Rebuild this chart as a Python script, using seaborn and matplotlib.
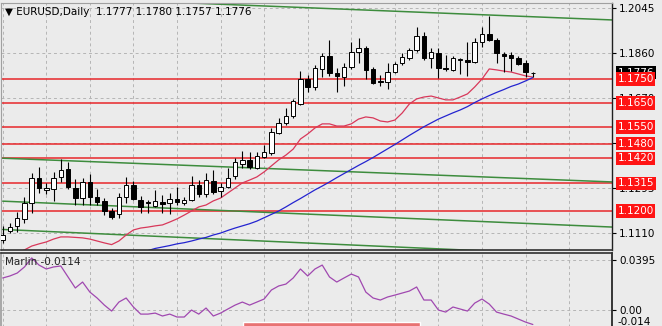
import numpy as np
import pandas as pd
import matplotlib
matplotlib.use("Agg")
import matplotlib.pyplot as plt
import seaborn as sns
from matplotlib.patches import Rectangle

sns.set_theme(style="white")
plt.rcParams['font.family'] = ['DejaVu Sans']

# ---------------- data ----------------
opens = [1.1079, 1.1117, 1.1138, 1.1167, 1.1233, 1.1338, 1.1288, 1.1292, 1.1342, 1.1375,
         1.1296, 1.1254, 1.1321, 1.1258, 1.1242, 1.1200, 1.1188, 1.1258, 1.1308, 1.1246,
         1.1238, 1.1221, 1.1238, 1.1233, 1.1250, 1.1233, 1.1246, 1.1308, 1.1271, 1.1325,
         1.1283, 1.1300, 1.1346, 1.1396, 1.1413, 1.1379, 1.1425, 1.1442, 1.1525, 1.1567,
         1.1596, 1.1646, 1.1750, 1.1717, 1.1792, 1.1846, 1.1775, 1.1758, 1.1800, 1.1863,
         1.1879, 1.1792, 1.1742, 1.1738, 1.1779, 1.1817, 1.1838, 1.1871, 1.1929, 1.1838,
         1.1858, 1.1796, 1.1788, 1.1831, 1.1829, 1.1821, 1.1904, 1.1938, 1.1913, 1.1854,
         1.1850, 1.1838, 1.1817, 1.1777]
highs = [1.1138, 1.1150, 1.1196, 1.1258, 1.1358, 1.1383, 1.1317, 1.1363, 1.1417, 1.1404,
         1.1333, 1.1338, 1.1354, 1.1292, 1.1254, 1.1213, 1.1275, 1.1342, 1.1325, 1.1263,
         1.1246, 1.1288, 1.1267, 1.1275, 1.1300, 1.1258, 1.1346, 1.1329, 1.1358, 1.1371,
         1.1317, 1.1379, 1.1421, 1.1450, 1.1446, 1.1446, 1.1475, 1.1546, 1.1588, 1.1629,
         1.1667, 1.1783, 1.1767, 1.1808, 1.1858, 1.1913, 1.1796, 1.1817, 1.1904, 1.1921,
         1.1888, 1.1800, 1.1767, 1.1817, 1.1821, 1.1858, 1.1879, 1.1967, 1.1946, 1.1879,
         1.1879, 1.1850, 1.1846, 1.1838, 1.1904, 1.1921, 1.1967, 1.2011, 1.1921, 1.1863,
         1.1863, 1.1846, 1.1829, 1.1780]
lows = [1.1067, 1.1108, 1.1112, 1.1150, 1.1192, 1.1275, 1.1271, 1.1242, 1.1321, 1.1292,
        1.1225, 1.1225, 1.1225, 1.1225, 1.1183, 1.1167, 1.1171, 1.1233, 1.1246, 1.1192,
        1.1192, 1.1217, 1.1192, 1.1188, 1.1225, 1.1225, 1.1242, 1.1258, 1.1258, 1.1271,
        1.1258, 1.1296, 1.1333, 1.1379, 1.1375, 1.1375, 1.1421, 1.1433, 1.1521, 1.1558,
        1.1588, 1.1642, 1.1696, 1.1704, 1.1758, 1.1763, 1.1696, 1.1721, 1.1792, 1.1817,
        1.1750, 1.1730, 1.1721, 1.1708, 1.1775, 1.1808, 1.1829, 1.1863, 1.1829, 1.1796,
        1.1754, 1.1783, 1.1783, 1.1771, 1.1763, 1.1817, 1.1883, 1.1908, 1.1817, 1.1779,
        1.1783, 1.1808, 1.1758, 1.1757]
closes = [1.1100, 1.1133, 1.1171, 1.1233, 1.1338, 1.1296, 1.1296, 1.1338, 1.1371, 1.1300,
          1.1254, 1.1321, 1.1258, 1.1238, 1.1200, 1.1175, 1.1258, 1.1308, 1.1250, 1.1217,
          1.1233, 1.1242, 1.1229, 1.1250, 1.1238, 1.1246, 1.1308, 1.1271, 1.1329, 1.1279,
          1.1300, 1.1338, 1.1404, 1.1413, 1.1383, 1.1429, 1.1446, 1.1529, 1.1567, 1.1596,
          1.1658, 1.1750, 1.1717, 1.1796, 1.1846, 1.1775, 1.1763, 1.1800, 1.1863, 1.1879,
          1.1788, 1.1733, 1.1738, 1.1779, 1.1813, 1.1842, 1.1871, 1.1929, 1.1838, 1.1863,
          1.1796, 1.1792, 1.1838, 1.1833, 1.1821, 1.1904, 1.1938, 1.1913, 1.1858, 1.1846,
          1.1838, 1.1813, 1.1779, 1.1776]
ma_fast = [1.0988, 1.1004, 1.1025, 1.1038, 1.1054, 1.1063, 1.1071, 1.1083, 1.1092, 1.1092,
           1.1090, 1.1088, 1.1083, 1.1075, 1.1067, 1.1060, 1.1075, 1.1100, 1.1121, 1.1129,
           1.1133, 1.1138, 1.1142, 1.1154, 1.1167, 1.1183, 1.1200, 1.1217, 1.1225, 1.1242,
           1.1254, 1.1275, 1.1296, 1.1317, 1.1329, 1.1342, 1.1363, 1.1388, 1.1413, 1.1433,
           1.1458, 1.1500, 1.1521, 1.1546, 1.1563, 1.1563, 1.1554, 1.1554, 1.1563, 1.1583,
           1.1592, 1.1588, 1.1575, 1.1571, 1.1579, 1.1608, 1.1646, 1.1667, 1.1675, 1.1679,
           1.1671, 1.1663, 1.1663, 1.1675, 1.1688, 1.1717, 1.1750, 1.1792, 1.1788, 1.1783,
           1.1779, 1.1771, 1.1763, 1.1758]
ma_slow = [np.nan] * 19 + [
           1.1027, 1.1035, 1.1044, 1.1050, 1.1056, 1.1063, 1.1068, 1.1075, 1.1083, 1.1090,
           1.1100, 1.1108, 1.1119, 1.1129, 1.1138, 1.1147, 1.1158, 1.1172, 1.1186, 1.1200,
           1.1217, 1.1235, 1.1252, 1.1270, 1.1288, 1.1304, 1.1321, 1.1339, 1.1356, 1.1373,
           1.1390, 1.1406, 1.1423, 1.1441, 1.1459, 1.1477, 1.1496, 1.1515, 1.1533, 1.1551,
           1.1567, 1.1583, 1.1596, 1.1609, 1.1621, 1.1635, 1.1652, 1.1667, 1.1681, 1.1694,
           1.1706, 1.1719, 1.1729, 1.1742, 1.1756]
marlin = [0.0253, 0.0269, 0.0292, 0.0340, 0.0411, 0.0355, 0.0324, 0.0340, 0.0348, 0.0261,
          0.0174, 0.0221, 0.0142, 0.0095, 0.0039, -0.0008, 0.0063, 0.0095, 0.0024, -0.0032,
          -0.0032, -0.0024, -0.0047, -0.0032, -0.0055, -0.0055, 0.0000, -0.0032, 0.0016, -0.0047,
          -0.0024, 0.0008, 0.0039, 0.0063, 0.0039, 0.0063, 0.0087, 0.0158, 0.0190, 0.0205,
          0.0253, 0.0324, 0.0269, 0.0324, 0.0355, 0.0261, 0.0221, 0.0253, 0.0284, 0.0261,
          0.0142, 0.0095, 0.0079, 0.0103, 0.0118, 0.0134, 0.0150, 0.0182, 0.0079, 0.0079,
          0.0000, -0.0016, 0.0024, 0.0008, -0.0008, 0.0055, 0.0087, 0.0047, -0.0016, -0.0032,
          -0.0047, -0.0071, -0.0095, -0.0114]

levels = [1.1750, 1.1650, 1.1550, 1.1480, 1.1420, 1.1315, 1.1200]
level_labels = ["1.1750", "1.1650", "1.1550", "1.1480", "1.1420", "1.1315", "1.1200"]
price_ticks = [1.2045, 1.1860, 1.1670, 1.1485, 1.1295, 1.1110]
price_tick_labels = ["1.2045", "1.1860", "1.1670", "1.1485", "1.1295", "1.1110"]
last_price = 1.1776
marlin_ticks = [0.0395, 0.0]
marlin_tick_labels = ["0.0395", "0.00"]
marlin_min_label = "-0.014"
# channel lines: price at candle index 0 and at index 84
trend_x = [0, 84]
trend_lines = [[1.2098, 1.1996], [1.1420, 1.1321], [1.1241, 1.1133], [1.1123, 1.1010]]
title = "\u25bc EURUSD,Daily  1.1777 1.1780 1.1757 1.1776"
marlin_title = "Marlin -0.0114"

# ---------------- figure ----------------
BG = "#ebebeb"
W, H = 662, 326
fig = plt.figure(figsize=(W / 100, H / 100), dpi=100, facecolor=BG)
ax = fig.add_axes([0.0015, (H - 250) / H, 611 / W, 247 / H], facecolor=BG)
ax2 = fig.add_axes([0.0015, -0.02, 611 / W, (73 + 6.5) / H], facecolor=BG)

n = len(opens)
idx = np.arange(n)
df = pd.DataFrame({"i": idx, "open": opens, "high": highs, "low": lows, "close": closes,
                   "ma_fast": ma_fast, "ma_slow": ma_slow, "marlin": marlin})

xmin, xmax = -0.234, 83.9
grid_kw = dict(color="#b5b5b5", lw=0.7, ls=(0, (3, 3)), zorder=0)

# grid
for gx in range(0, 84, 6):
    ax.axvline(gx, **grid_kw)
    ax2.axvline(gx, **grid_kw)
for gy in price_ticks:
    ax.axhline(gy, **grid_kw)
for gy in marlin_ticks:
    ax2.axhline(gy, **grid_kw)

# horizontal levels
for lv in levels:
    ax.axhline(lv, color="#e8262a", lw=1.1, zorder=1)

# channel lines
for tl in trend_lines:
    ax.plot(trend_x, tl, color="#3d8c3d", lw=1.1, zorder=1.2)

# moving averages
sns.lineplot(data=df, x="i", y="ma_fast", ax=ax, color="#d8385a", lw=0.9, zorder=2)
sns.lineplot(data=df, x="i", y="ma_slow", ax=ax, color="#2424d0", lw=0.9, zorder=2)

# candles
up = df["close"] >= df["open"]
ax.vlines(df["i"], df["low"], df["high"], color="black", lw=0.8, zorder=3)
body_bottom = np.minimum(df["open"], df["close"])
body_h = np.maximum(np.abs(df["close"] - df["open"]), 0.00006)
ax.bar(df["i"], body_h, bottom=body_bottom, width=0.62,
       color=np.where(up, "white", "black"), edgecolor="black", linewidth=0.7, zorder=4)

ax.set_xlim(xmin, xmax)
ax.set_ylim(1.10375, 1.20667)
ax.set_xlabel("")
ax.set_ylabel("")
ax.set_xticks([])
ax.yaxis.tick_right()
ax.set_yticks(price_ticks)
ax.set_yticklabels(price_tick_labels)
ax.tick_params(axis="y", right=True, length=3, width=0.8, pad=2, labelsize=7.5,
               colors="black", direction="out")

for s in ["left", "top"]:
    ax.spines[s].set_color("#a0a0a0")
    ax.spines[s].set_linewidth(0.8)
ax.spines["right"].set_color("#202020")
ax.spines["right"].set_linewidth(1.0)
ax.spines["bottom"].set_color("#303030")
ax.spines["bottom"].set_linewidth(1.2)

# current price (black) label
ax.annotate(f"{last_price:.4f}", xy=(1.0, last_price), xycoords=("axes fraction", "data"),
            xytext=(4, 0), textcoords="offset points", ha="left", va="center",
            fontsize=7.5, color="white", annotation_clip=False, zorder=5,
            bbox=dict(boxstyle="square,pad=0.15", fc="black", ec="none"))
# level labels (red)
for lv, lab in zip(levels, level_labels):
    ax.annotate(lab, xy=(1.0, lv), xycoords=("axes fraction", "data"),
                xytext=(4, 0), textcoords="offset points", ha="left", va="center",
                fontsize=7.5, color="white", annotation_clip=False, zorder=6,
                bbox=dict(boxstyle="square,pad=0.15", fc="#ff1414", ec="none"))

ax.text(0.006, 0.962, title, transform=ax.transAxes, ha="left", va="center",
        fontsize=7.5, color="black", zorder=7)

# ---------------- Marlin ----------------
sns.lineplot(data=df, x="i", y="marlin", ax=ax2, color="#a048b0", lw=0.9, zorder=2)
ax2.set_xlim(xmin, xmax)
ax2.set_ylim(-0.0126 - 6.5 / 1266, 0.0450)
ax2.set_xlabel("")
ax2.set_ylabel("")
ax2.set_xticks([])
ax2.yaxis.tick_right()
ax2.set_yticks(marlin_ticks)
ax2.set_yticklabels(marlin_tick_labels)
ax2.tick_params(axis="y", right=True, length=3, width=0.8, pad=2, labelsize=7.5,
                colors="black", direction="out")
ax2.spines["top"].set_color("#303030")
ax2.spines["top"].set_linewidth(1.2)
ax2.spines["left"].set_color("#a0a0a0")
ax2.spines["right"].set_color("#202020")
ax2.spines["bottom"].set_visible(False)
ax2.text(0.006, 0.885, marlin_title, transform=ax2.transAxes, ha="left", va="center",
         fontsize=7.5, color="#222222", zorder=7)
ax2.annotate(marlin_min_label, xy=(1.0, -0.0095), xycoords=("axes fraction", "data"),
             xytext=(4, 0), textcoords="offset points", ha="left", va="center",
             fontsize=7.5, color="black", annotation_clip=False)

# pink caption strip at the bottom
fig.patches.append(Rectangle((243 / W, -0.01), 177 / W, 7 / H, transform=fig.transFigure,
                             facecolor="#e87272", edgecolor="white", lw=1.0, zorder=10))

fig.savefig("out.png", dpi=100, facecolor=BG)
